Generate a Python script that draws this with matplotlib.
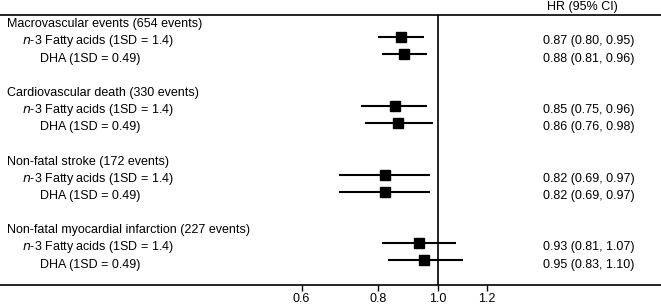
import numpy as np
import matplotlib
matplotlib.use('Agg')
from matplotlib import pyplot as plt
from matplotlib import transforms

plt.rcParams['font.family'] = ['Liberation Sans', 'DejaVu Sans']

# outcome groups and the two exposures shown under each
groups = ['Macrovascular events (654 events)',
          'Cardiovascular death (330 events)',
          'Non-fatal stroke (172 events)',
          'Non-fatal myocardial infarction (227 events)']
exposures = ['-3 Fatty acids (1SD = 1.4)', 'DHA (1SD = 0.49)']

hr = [0.87, 0.88, 0.85, 0.86, 0.82, 0.82, 0.93, 0.95]
lo = [0.80, 0.81, 0.75, 0.76, 0.69, 0.69, 0.81, 0.83]
hi = [0.95, 0.96, 0.96, 0.98, 0.97, 0.97, 1.07, 1.10]

ticks = [0.6, 0.8, 1.0, 1.2]

fs = 9.0
base = 0.42  # text baseline sits a little below the row centre

fig = plt.figure(figsize=(6.61, 3.08), dpi=100)
ax = fig.add_axes([0, 23 / 308, 1, 270 / 308])
ax.set_xscale('log')
ax.set_xlim(0.194, 2.305)
ax.set_ylim(15.43, -0.29)

for s in ['left', 'right']:
    ax.spines[s].set_visible(False)
for s in ['top', 'bottom']:
    ax.spines[s].set_linewidth(1.2)
ax.set_yticks([])
ax.set_xticks(ticks)
ax.set_xticklabels(['{:.1f}'.format(t) for t in ticks], fontsize=fs)
ax.xaxis.set_minor_locator(matplotlib.ticker.NullLocator())
ax.tick_params(axis='x', length=4, width=1, pad=2)

ax.axvline(1.0, color='black', lw=1.2)

trans = transforms.blended_transform_factory(ax.transAxes, ax.transData)

k = 0
for g, name in enumerate(groups):
    y0 = g * 4
    ax.text(7 / 661, y0 + base, name, transform=trans, fontsize=fs,
            va='baseline', ha='left')
    for j, ex in enumerate(exposures):
        y = y0 + 1 + j
        if j == 0:
            ax.text(22 / 661, y + base, r'$\it{n}$' + ex, transform=trans, fontsize=fs,
                    va='baseline', ha='left')
        else:
            ax.text(40 / 661, y + base, ex, transform=trans, fontsize=fs,
                    va='baseline', ha='left')
        ax.plot([lo[k], hi[k]], [y, y], color='black', lw=1.5, solid_capstyle='butt')
        ax.plot(hr[k], y, 's', color='black', ms=6.5)
        ax.text(543 / 661, y + base, '{:.2f} ({:.2f}, {:.2f})'.format(hr[k], lo[k], hi[k]),
                transform=trans, fontsize=fs, va='baseline', ha='left')
        k += 1

ax.text(547 / 661, 1 + 5 / 270, 'HR (95% CI)', transform=ax.transAxes, fontsize=fs,
        va='baseline', ha='left')

fig.savefig('out.png', dpi=100)
